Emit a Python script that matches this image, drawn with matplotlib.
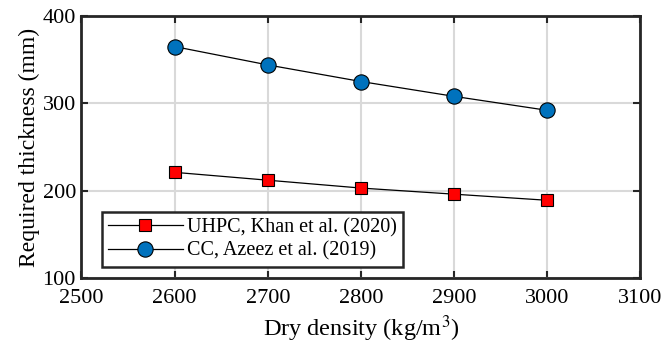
import numpy as np
import matplotlib
matplotlib.use('Agg')
import matplotlib.pyplot as plt

plt.rcParams['font.family'] = ['Liberation Serif', 'DejaVu Serif']
plt.rcParams['mathtext.fontset'] = 'stix'

density = [2600, 2700, 2800, 2900, 3000]
uhpc = [221, 212, 203, 196, 189]
cc = [365, 344, 325, 308, 292]

fig = plt.figure(figsize=(6.63, 3.52), dpi=100)
ax = fig.add_axes([0.1229, 0.2102, 0.8431, 0.7443])

ax.plot(density, uhpc, '-', color='black', lw=0.9, marker='s', ms=8.5,
        mfc='#ff0000', mec='black', mew=0.8, label='UHPC, Khan et al. (2020)')
ax.plot(density, cc, '-', color='black', lw=0.9, marker='o', ms=11,
        mfc='#0072bd', mec='black', mew=0.8, label='CC, Azeez et al. (2019)')

ax.set_xlim(2500, 3100)
ax.set_ylim(100, 400)
ax.set_xticks(np.arange(2500, 3101, 100))
ax.set_yticks([100, 200, 300, 400])
ax.grid(True, color='#d9d9d9', lw=1.5)
ax.set_axisbelow(True)
ax.tick_params(direction='in', top=True, right=True, length=5, width=1.5,
               labelsize=16, colors='#262626', labelcolor='black')
ax.tick_params(axis='x', pad=8)
ax.tick_params(axis='y', pad=4)
for s in ax.spines.values():
    s.set_linewidth(2)
    s.set_color('#262626')

ax.set_xlabel('Dry density (kg/m$^3$)', fontsize=17.5, labelpad=4)
ax.set_ylabel('Required thickness (mm)', fontsize=17, labelpad=2)

leg = ax.legend(loc='lower left', bbox_to_anchor=(0.037, 0.043), fontsize=14.5,
                fancybox=False, framealpha=1, edgecolor='#262626',
                handlelength=3.7, borderpad=0.3, labelspacing=0.2,
                handletextpad=0.2, borderaxespad=0)
leg.get_frame().set_linewidth(1.8)

fig.savefig('out.png', dpi=100)
